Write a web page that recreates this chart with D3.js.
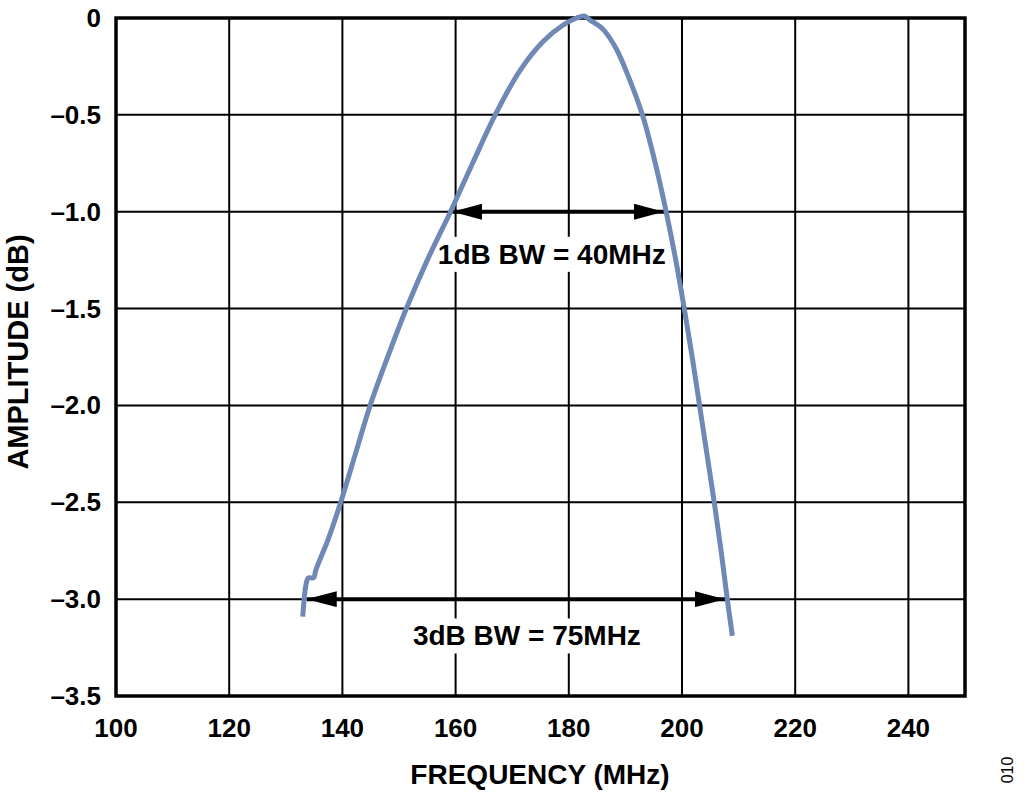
<!DOCTYPE html>
<html>
<head>
<meta charset="utf-8">
<script src="https://cdn.jsdelivr.net/npm/d3@7"></script>
<style>
  body { margin: 0; background: #fff; }
  text { font-family: "Liberation Sans", Arial, sans-serif; font-weight: bold; fill: #000; }
</style>
</head>
<body>
<script>
// frequency response
var freqMHz = [133.0, 133.6, 134.0, 134.9, 135.3, 137.5, 139.7, 142.3, 144.9, 148.0,
               151.3, 155.0, 159.1, 163.0, 167.0, 171.4, 175.5, 179.0, 181.4,
               182.7, 183.7, 186.1, 188.4, 190.5, 193.0, 195.2, 197.2, 198.9,
               200.4, 201.8, 203.1, 204.4, 205.7, 206.9, 208.0, 208.9];
var amplitudeDb = [-3.09, -2.92, -2.89, -2.89, -2.85, -2.69, -2.50, -2.25, -2.00, -1.75,
                   -1.50, -1.25, -1.00, -0.75, -0.50, -0.27, -0.12, -0.036, 0.0,
                   0.01, -0.01, -0.06, -0.16, -0.30, -0.50, -0.74, -1.00, -1.25,
                   -1.50, -1.75, -2.00, -2.25, -2.50, -2.75, -3.00, -3.19];

var xTicks = [100, 120, 140, 160, 180, 200, 220, 240];
var yTicks = [0, -0.5, -1.0, -1.5, -2.0, -2.5, -3.0, -3.5];
var yTickLabels = ["0", "–0.5", "–1.0", "–1.5", "–2.0", "–2.5", "–3.0", "–3.5"];

// bandwidth markers: [from, to, level, label freq, label level, text]
var bw1 = [159.4, 196.8, -1.0, 177.0, -1.22, "1dB BW = 40MHz"];
var bw3 = [133.7, 207.6, -3.0, 172.6, -3.19, "3dB BW = 75MHz"];

var W = 1024, H = 797;
var x = d3.scaleLinear().domain([100, 250]).range([116, 965]);
var y = d3.scaleLinear().domain([0, -3.5]).range([18, 696]);

var svg = d3.select("body").append("svg")
    .attr("width", W)
    .attr("height", H);

var defs = svg.append("defs");
defs.append("marker")
    .attr("id", "head")
    .attr("viewBox", "0 0 30 16")
    .attr("refX", 30).attr("refY", 8)
    .attr("markerWidth", 30).attr("markerHeight", 16)
    .attr("markerUnits", "userSpaceOnUse")
    .attr("orient", "auto-start-reverse")
  .append("path")
    .attr("d", "M0,0 L30,8 L0,16 Z")
    .attr("fill", "#000");

// grid
svg.append("g").selectAll("line")
    .data(xTicks.slice(1))
  .enter().append("line")
    .attr("x1", function(d) { return x(d); })
    .attr("x2", function(d) { return x(d); })
    .attr("y1", y(0)).attr("y2", y(-3.5))
    .attr("stroke", "#000").attr("stroke-width", 2);

svg.append("g").selectAll("line")
    .data(yTicks.slice(1, -1))
  .enter().append("line")
    .attr("x1", x(100)).attr("x2", x(250))
    .attr("y1", function(d) { return y(d); })
    .attr("y2", function(d) { return y(d); })
    .attr("stroke", "#000").attr("stroke-width", 2);

// white boxes behind the bandwidth labels
[bw1, bw3].forEach(function(b) {
    var t = svg.append("text")
        .attr("x", x(b[3])).attr("y", y(b[4]))
        .attr("text-anchor", "middle")
        .attr("dominant-baseline", "central")
        .style("font-size", "28px")
        .text(b[5]);
    var bb = t.node().getBBox();
    svg.insert("rect", "text")
        .attr("x", bb.x - 6).attr("y", bb.y - 2)
        .attr("width", bb.width + 12).attr("height", bb.height + 4)
        .attr("fill", "#fff");
});

// arrows
[bw1, bw3].forEach(function(b) {
    svg.append("line")
        .attr("x1", x(b[0])).attr("x2", x(b[1]))
        .attr("y1", y(b[2])).attr("y2", y(b[2]))
        .attr("stroke", "#000").attr("stroke-width", 4)
        .attr("marker-start", "url(#head)")
        .attr("marker-end", "url(#head)");
});

// frame
svg.append("rect")
    .attr("x", x(100)).attr("y", y(0))
    .attr("width", x(250) - x(100)).attr("height", y(-3.5) - y(0))
    .attr("fill", "none").attr("stroke", "#000").attr("stroke-width", 3.5);

// curve
var line = d3.line()
    .x(function(d, i) { return x(freqMHz[i]); })
    .y(function(d) { return y(d); })
    .curve(d3.curveCatmullRom.alpha(0.5));

svg.append("path")
    .datum(amplitudeDb)
    .attr("d", line)
    .attr("fill", "none")
    .attr("stroke", "#6f88b5")
    .attr("stroke-width", 5);

// tick labels
svg.append("g").selectAll("text")
    .data(xTicks)
  .enter().append("text")
    .attr("x", function(d) { return x(d); })
    .attr("y", 728)
    .attr("text-anchor", "middle")
    .attr("dominant-baseline", "central")
    .style("font-size", "26px")
    .text(function(d) { return d; });

svg.append("g").selectAll("text")
    .data(yTicks)
  .enter().append("text")
    .attr("x", 101)
    .attr("y", function(d) { return y(d); })
    .attr("text-anchor", "end")
    .attr("dominant-baseline", "central")
    .style("font-size", "26px")
    .text(function(d, i) { return yTickLabels[i]; });

// axis titles
svg.append("text")
    .attr("x", 540).attr("y", 774)
    .attr("text-anchor", "middle")
    .attr("dominant-baseline", "central")
    .style("font-size", "28px")
    .text("FREQUENCY (MHz)");

svg.append("text")
    .attr("transform", "translate(18,352) rotate(-90)")
    .attr("text-anchor", "middle")
    .attr("dominant-baseline", "central")
    .style("font-size", "29px")
    .text("AMPLITUDE (dB)");

svg.append("text")
    .attr("transform", "translate(1007,770) rotate(-90)")
    .attr("text-anchor", "middle")
    .attr("dominant-baseline", "central")
    .style("font-size", "16px")
    .style("font-weight", "normal")
    .text("010");
</script>
</body>
</html>
